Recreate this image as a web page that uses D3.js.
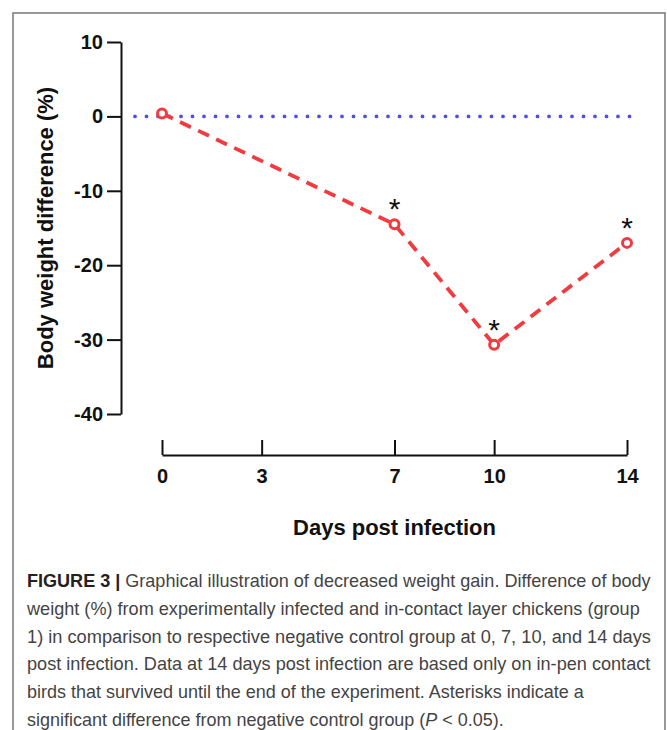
<!DOCTYPE html>
<html>
<head>
<meta charset="utf-8">
<script src="https://cdn.jsdelivr.net/npm/d3@7"></script>
<style>
  body { margin: 0; background: #fff; }
  svg text { font-family: "Liberation Sans", Arial, sans-serif; }
</style>
</head>
<body>
<div id="chart"></div>
<script>
const days = [0, 7, 10, 14];
const weightDiff = [0.4, -14.5, -30.7, -17];
const significant = [false, true, true, true];
const xTicks = [0, 3, 7, 10, 14];
const yTicks = [10, 0, -10, -20, -30, -40];
const captionLines = [
  "Graphical illustration of decreased weight gain. Difference of body",
  "weight (%) from experimentally infected and in-contact layer chickens (group",
  "1) in comparison to respective negative control group at 0, 7, 10, and 14 days",
  "post infection. Data at 14 days post infection are based only on in-pen contact",
  "birds that survived until the end of the experiment. Asterisks indicate a",
  "significant difference from negative control group (",
];
// right edge of each caption line in the reference
const captionRight = [651, 640, 651, 651, 584, 504];

const width = 667, height = 730;
const svg = d3.select("#chart").append("svg")
  .attr("width", width).attr("height", height);

// frame
svg.append("path")
  .attr("d", `M13,${height} L13,13 L665,13 L665,${height}`)
  .attr("fill", "none").attr("stroke", "#777").attr("stroke-width", 1.5);

const x = d3.scaleLinear().domain([0, 14]).range([162, 627]);
const y = d3.scaleLinear().domain([-40, 10]).range([414, 42]);

const fmt = d => String(d); // plain hyphen minus like the original

// y axis
const yAxis = svg.append("g")
  .attr("transform", "translate(121,0)")
  .call(d3.axisLeft(y).tickValues(yTicks).tickFormat(fmt).tickSize(14).tickPadding(4).tickSizeOuter(0));
yAxis.select(".domain").attr("stroke", "#111").attr("stroke-width", 2);
yAxis.selectAll(".tick line").attr("stroke", "#111").attr("stroke-width", 2);
yAxis.selectAll(".tick text")
  .attr("font-size", 20).attr("font-weight", "bold").attr("fill", "#111")
  .attr("font-family", "Liberation Sans, Arial, sans-serif");

// x axis (ticks point upward)
const xAxis = svg.append("g")
  .attr("transform", "translate(0,455)")
  .call(d3.axisBottom(x).tickValues(xTicks).tickFormat(fmt).tickSize(-15).tickPadding(14).tickSizeOuter(0));
xAxis.select(".domain").attr("stroke", "#111").attr("stroke-width", 2);
xAxis.selectAll(".tick line").attr("stroke", "#111").attr("stroke-width", 2);
xAxis.selectAll(".tick text")
  .attr("y", 14).attr("dy", "0.71em")
  .attr("font-size", 20).attr("font-weight", "bold").attr("fill", "#111")
  .attr("font-family", "Liberation Sans, Arial, sans-serif");

// axis titles
svg.append("text")
  .attr("x", x(7)).attr("y", 535)
  .attr("text-anchor", "middle")
  .attr("font-size", 22).attr("font-weight", "bold").attr("fill", "#111")
  .text("Days post infection");

svg.append("text")
  .attr("transform", `translate(53,${y(-15)}) rotate(-90)`)
  .attr("text-anchor", "middle")
  .attr("font-size", 22).attr("font-weight", "bold").attr("fill", "#111")
  .text("Body weight difference (%)");

// zero reference line (dotted)
svg.append("line")
  .attr("x1", 135).attr("x2", 633)
  .attr("y1", y(0)).attr("y2", y(0))
  .attr("stroke", "#4f4fe6").attr("stroke-width", 3.8)
  .attr("stroke-linecap", "round")
  .attr("stroke-dasharray", "0 11.5");

// data line
const line = d3.line().x((d, i) => x(days[i])).y(d => y(d));
svg.append("path")
  .attr("d", line(weightDiff))
  .attr("fill", "none")
  .attr("stroke", "#f03c40").attr("stroke-width", 3.8)
  .attr("stroke-dasharray", "12 8");

svg.selectAll("circle.pt")
  .data(weightDiff)
  .join("circle")
  .attr("class", "pt")
  .attr("cx", (d, i) => x(days[i]))
  .attr("cy", d => y(d))
  .attr("r", 4.5)
  .attr("fill", "#fff")
  .attr("stroke", "#f03c40").attr("stroke-width", 3);

const starPts = days.map((day, i) => ({ day, v: weightDiff[i] })).filter((d, i) => significant[i]);
svg.selectAll("text.star")
  .data(starPts)
  .join("text")
  .attr("class", "star")
  .attr("x", d => x(d.day))
  .attr("y", d => y(d.v) - 5)
  .attr("text-anchor", "middle")
  .attr("font-size", 30).attr("fill", "#111")
  .text("*");

// caption (condensed look: each line scaled to the reference width)
const cap = svg.append("g")
  .attr("font-family", "Liberation Sans, Arial, sans-serif")
  .attr("font-size", 18).attr("fill", "#444");
const lineH = 27.8;
captionLines.forEach((t, i) => {
  const tx = cap.append("text").attr("x", 0).attr("y", 0);
  if (i === 0) {
    tx.append("tspan").attr("font-weight", "bold").attr("fill", "#222").text("FIGURE 3 | ");
  }
  tx.append("tspan").text(t);
  if (i === captionLines.length - 1) {
    tx.append("tspan").attr("font-style", "italic").text("P");
    tx.append("tspan").text(" < 0.05).");
  }
  const w = tx.node().getComputedTextLength();
  const sx = (captionRight[i] - 27) / w;
  tx.attr("transform", `translate(27,${587 + i * lineH}) scale(${sx},1)`);
});
</script>
</body>
</html>
